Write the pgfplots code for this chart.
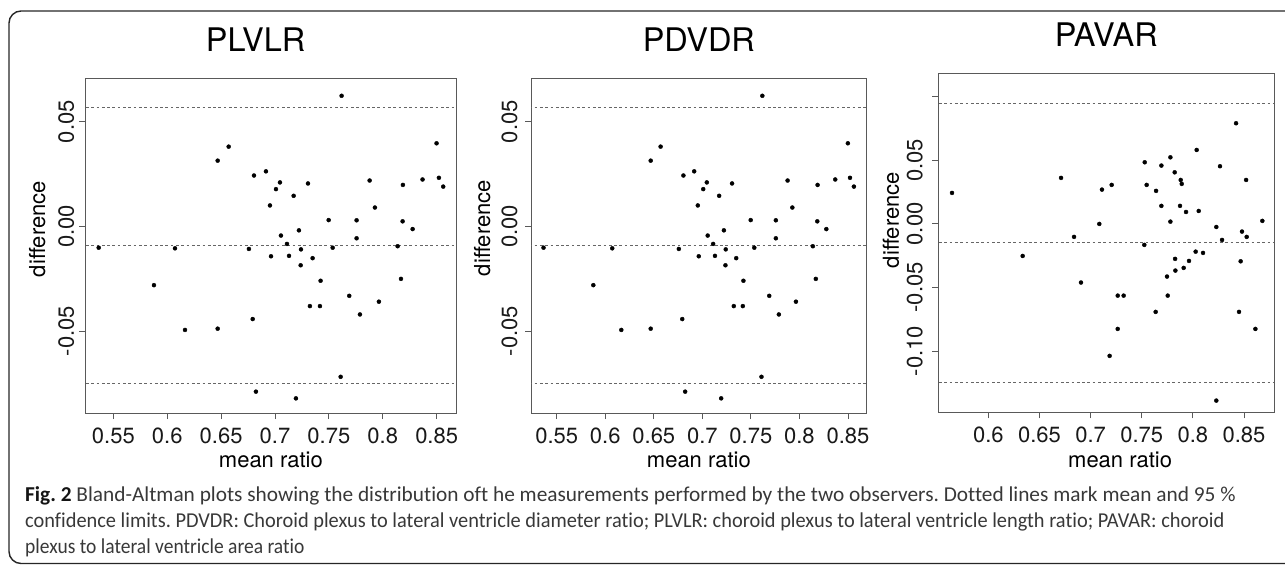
\documentclass[border=0pt]{standalone}
\usepackage{fontspec}
\setmainfont{TeX Gyre Heros}
\newfontfamily\capfont[Ligatures=NoCommon]{Carlito}
\usepackage{pgfplots}
\usepackage{pgfplotstable}
\pgfplotsset{compat=1.18}

% mean ratio vs difference, same readings for PLVLR and PDVDR
\pgfplotstableread{
x y
0.5364 -0.0102
0.5877 -0.0281
0.6072 -0.0105
0.6165 -0.0495
0.6468 0.0314
0.6468 -0.0489
0.6570 0.0381
0.6758 -0.0108
0.6793 -0.0443
0.6805 0.0243
0.6823 -0.0790
0.6916 0.0263
0.6953 0.0100
0.6963 -0.0143
0.7009 0.0178
0.7046 0.0210
0.7055 -0.0044
0.7111 -0.0084
0.7130 -0.0141
0.7173 0.0146
0.7194 -0.0822
0.7222 -0.0019
0.7241 -0.0110
0.7238 -0.0186
0.7306 0.0205
0.7324 -0.0381
0.7349 -0.0152
0.7417 -0.0381
0.7423 -0.0260
0.7498 0.0030
0.7535 -0.0102
0.7609 -0.0719
0.7618 0.0624
0.7689 -0.0332
0.7757 0.0029
0.7757 -0.0057
0.7788 -0.0421
0.7878 0.0219
0.7927 0.0090
0.7964 -0.0360
0.8138 -0.0095
0.8169 -0.0251
0.8184 0.0024
0.8187 0.0198
0.8277 -0.0013
0.8369 0.0224
0.8499 0.0397
0.8521 0.0232
0.8561 0.0190
}\ratiodata

% PAVAR
\pgfplotstableread{
x y
0.5645 0.0244
0.6336 -0.0252
0.6711 0.0362
0.6838 -0.0102
0.6906 -0.0461
0.7085 0.0000
0.7111 0.0270
0.7186 -0.1038
0.7206 0.0307
0.7265 -0.0564
0.7265 -0.0826
0.7323 -0.0564
0.7525 -0.0165
0.7529 0.0485
0.7548 0.0307
0.7636 -0.0692
0.7640 0.0260
0.7692 0.0459
0.7692 0.0142
0.7747 -0.0414
0.7754 -0.0564
0.7780 0.0524
0.7780 0.0018
0.7822 0.0406
0.7826 -0.0275
0.7829 -0.0367
0.7874 0.0142
0.7881 0.0346
0.7891 0.0315
0.7910 -0.0346
0.7933 0.0094
0.7962 -0.0291
0.8027 -0.0218
0.8037 0.0582
0.8057 0.0102
0.8099 -0.0228
0.8229 -0.0024
0.8229 -0.1390
0.8265 0.0454
0.8285 -0.0126
0.8422 0.0792
0.8451 -0.0692
0.8467 -0.0294
0.8480 -0.0060
0.8520 0.0346
0.8526 -0.0102
0.8611 -0.0826
0.8679 0.0024
}\areadata

\pgfplotsset{
  ba/.style={
    scale only axis,
    anchor=north west,
    axis line style={draw=black!65, line width=0.9pt},
    tick align=outside,
    xtick pos=left, ytick pos=left,
    major tick length=6pt,
    major tick style={draw=black!65, line width=0.9pt},
    scaled x ticks=false, scaled y ticks=false,
    tick label style={font=\fontsize{22}{26}\selectfont, text=black!90},
    label style={font=\fontsize{22}{26}\selectfont},
    title style={font=\fontsize{32.5}{38}\selectfont, anchor=base},
    yticklabel style={rotate=90, anchor=base},
    xticklabel style={anchor=base},
    yticklabel shift=5pt,
    xticklabel shift=24pt,
    xlabel={mean ratio},
    ylabel={difference},
    xlabel style={at={(axis description cs:0.5,0)}, anchor=base, yshift=-54.7pt},
  },
  ref/.style={black!60, dash pattern=on 2.7pt off 2.6pt, line width=0.7pt, forget plot},
  pts/.style={only marks, mark=*, mark size=2pt, black},
}

\begin{document}
\frenchspacing
\begin{tikzpicture}
\useasboundingbox (0,0) rectangle (1285pt,-565pt);
\draw[rounded corners=12pt, line width=1.4pt, black!85] (9pt,-11pt) rectangle (1320pt,-563.5pt);

% PLVLR
\begin{axis}[ba,
  at={(85pt,-78pt)}, width=371.7pt, height=335pt,
  xmin=0.5237, xmax=0.8686, ymin=-0.0892, ymax=0.0709,
  xtick={0.55,0.6,0.65,0.7,0.75,0.8,0.85},
  xticklabels={0.55,0.6,0.65,0.7,0.75,0.8,0.85},
  ytick={-0.05,0,0.05}, yticklabels={-0.05,0.00,0.05},
  title={PLVLR},
  title style={at={(axis description cs:0.459,1)}, yshift=21pt},
  ylabel style={at={(axis description cs:-0.1076,0.549)}, anchor=base},
]
\addplot[ref] coordinates {(0.5,0.0569) (0.9,0.0569)};
\addplot[ref] coordinates {(0.5,-0.0091) (0.9,-0.0091)};
\addplot[ref] coordinates {(0.5,-0.0749) (0.9,-0.0749)};
\addplot[pts] table[x=x, y=y] {\ratiodata};
\end{axis}

% PDVDR
\begin{axis}[ba,
  at={(531pt,-78pt)}, width=335.7pt, height=335pt,
  xmin=0.5235, xmax=0.8693, ymin=-0.0892, ymax=0.0709,
  xtick={0.55,0.6,0.65,0.7,0.75,0.8,0.85},
  xticklabels={0.55,0.6,0.65,0.7,0.75,0.8,0.85},
  ytick={-0.05,0,0.05}, yticklabels={-0.05,0.00,0.05},
  yticklabel shift=8pt,
  title={PDVDR},
  title style={at={(axis description cs:0.5,1)}, yshift=21pt},
  ylabel style={at={(axis description cs:-0.122,0.552)}, anchor=base},
]
\addplot[ref] coordinates {(0.5,0.0569) (0.9,0.0569)};
\addplot[ref] coordinates {(0.5,-0.0091) (0.9,-0.0091)};
\addplot[ref] coordinates {(0.5,-0.0749) (0.9,-0.0749)};
\addplot[pts] table[x=x, y=y] {\ratiodata};
\end{axis}

% PAVAR
\begin{axis}[ba,
  at={(938.3pt,-73.3pt)}, width=336pt, height=339pt,
  xmin=0.5511, xmax=0.8796, ymin=-0.1482, ymax=0.1185,
  xtick={0.6,0.65,0.7,0.75,0.8,0.85},
  xticklabels={0.6,0.65,0.7,0.75,0.8,0.85},
  ytick={-0.1,-0.05,0,0.05,0.1}, yticklabels={-0.10,-0.05,0.00,0.05,{}},
  yticklabel shift=10pt,
  title={PAVAR},
  title style={at={(axis description cs:0.5,1)}, yshift=21.3pt},
  ylabel style={at={(axis description cs:-0.117,0.567)}, anchor=base},
  xlabel style={at={(axis description cs:0.541,0)}},
]
\addplot[ref] coordinates {(0.5,0.0947) (0.9,0.0947)};
\addplot[ref] coordinates {(0.5,-0.0144) (0.9,-0.0144)};
\addplot[ref] coordinates {(0.5,-0.1243) (0.9,-0.1243)};
\addplot[pts] table[x=x, y=y] {\areadata};
\end{axis}

% caption
\begin{scope}[every node/.style={anchor=base west, inner sep=0pt, text=black!78, font=\capfont\fontsize{21.2}{26}\selectfont}]
\node[xscale=1.006] at (25pt,-501.5pt) {{\bfseries\color{black!92}Fig. 2} Bland-Altman plots showing the distribution oft he measurements performed by the two observers. Dotted lines mark mean and 95 \%};
\node[xscale=0.961] at (25pt,-527.5pt) {confidence limits. PDVDR: Choroid plexus to lateral ventricle diameter ratio; PLVLR: choroid plexus to lateral ventricle length ratio; PAVAR: choroid};
\node[xscale=0.92] at (25pt,-553.5pt) {plexus to lateral ventricle area ratio};
\end{scope}
\end{tikzpicture}
\end{document}
